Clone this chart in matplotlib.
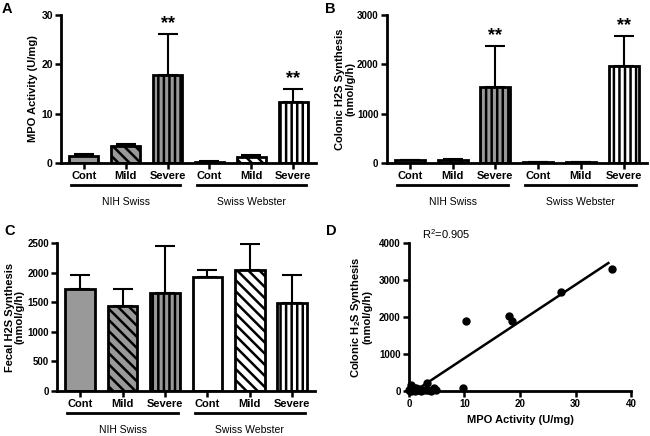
import matplotlib
matplotlib.use("Agg")
import matplotlib.pyplot as plt
import numpy as np
from matplotlib import transforms

plt.rcParams['font.family'] = ['Liberation Sans', 'DejaVu Sans']
plt.rcParams['hatch.linewidth'] = 1.8
plt.rcParams['mathtext.default'] = 'regular'

# categories
categories = ["Cont", "Mild", "Severe", "Cont", "Mild", "Severe"]
groups = ["NIH Swiss", "Swiss Webster"]

# panel A: MPO activity (U/mg)
mpo_mean = [1.5, 3.4, 17.8, 0.3, 1.2, 12.3]
mpo_err = [0.3, 0.4, 8.4, 0.05, 0.4, 2.7]
mpo_sig = ["", "", "**", "", "", "**"]

# panel B: colonic H2S synthesis (nmol/g/h)
colonic_mean = [55, 55, 1530, 20, 12, 1970]
colonic_err = [10, 20, 840, 5, 5, 610]
colonic_sig = ["", "", "**", "", "", "**"]

# panel C: fecal H2S synthesis (nmol/g/h)
fecal_mean = [1720, 1430, 1660, 1920, 2050, 1490]
fecal_err = [230, 300, 780, 120, 430, 460]

# panel D: MPO vs colonic H2S, individual animals
scatter_mpo = [0.1, 0.2, 0.3, 0.5, 0.7, 0.9, 1.1, 1.3, 1.6, 1.9, 2.2, 2.6,
               3.0, 3.5, 4.0, 4.6, 4.9, 9.7, 0.3, 3.3, 0.2, 1.0,
               10.3, 18.1, 18.6, 27.4, 36.5]
scatter_h2s = [30, 60, 10, 40, 20, 50, 15, 70, 30, 45, 10, 40,
               20, 35, 15, 72, 25, 90, 162, 207, 5, 90,
               1900, 2027, 1892, 2685, 3297]
r_squared = 0.905

bar_colors = ["#999999", "#999999", "#999999", "white", "white", "white"]
bar_hatches = [None, "\\\\\\", "|||", None, "\\\\\\", "|||"]


def style_axes(ax, ysize):
    for side in ["top", "right"]:
        ax.spines[side].set_visible(False)
    for side in ["left", "bottom"]:
        ax.spines[side].set_linewidth(2)
    ax.tick_params(axis="both", length=4, width=1.8, pad=2)
    ax.tick_params(axis="x", labelsize=8)
    ax.tick_params(axis="y", labelsize=ysize)
    for lab in ax.get_xticklabels() + ax.get_yticklabels():
        lab.set_fontweight("bold")


def bar_panel(ax, means, errs, ymax, ystep, ylabel, label_x, ysize, sig=None):
    x = np.arange(len(means))
    for i in range(len(means)):
        ax.bar(x[i], means[i], width=0.7, color=bar_colors[i], edgecolor="black",
               hatch=bar_hatches[i], linewidth=2, zorder=2)
    ax.errorbar(x, means, yerr=[np.zeros(len(errs)), errs], fmt="none",
                ecolor="black", elinewidth=1.5, capsize=7, capthick=1.5, zorder=1)
    if sig:
        for i in range(len(means)):
            if sig[i]:
                ax.text(x[i], means[i] + errs[i] + ymax * 0.01, sig[i], ha="center",
                        va="bottom", fontsize=13, fontweight="bold")
    ax.set_xlim(-0.54, 5.54)
    ax.set_ylim(0, ymax)
    ax.set_yticks(np.arange(0, ymax + 1, ystep))
    ax.set_xticks(x)
    ax.set_xticklabels(categories)
    ax.set_ylabel(ylabel, fontsize=8, fontweight="bold", linespacing=1.0)
    ax.yaxis.set_label_coords(label_x, 0.5)
    style_axes(ax, ysize)
    trans = transforms.blended_transform_factory(ax.transData, ax.transAxes)
    for g, name in enumerate(groups):
        c = 1 + 3 * g
        ax.plot([c - 1.3, c + 1.3], [-0.145, -0.145], color="black", lw=2,
                transform=trans, clip_on=False)
        ax.text(c, -0.26, name, transform=trans, ha="center", va="center", fontsize=7.5)


fig = plt.figure(figsize=(6.5, 4.36), dpi=100)

axA = fig.add_axes([0.094, 0.626, 0.392, 0.34])
bar_panel(axA, mpo_mean, mpo_err, 30, 10, "MPO Activity (U/mg)", -0.09, 7.5, mpo_sig)

axB = fig.add_axes([0.595, 0.626, 0.40, 0.34])
bar_panel(axB, colonic_mean, colonic_err, 3000, 1000,
          "Colonic H2S Synthesis\n(nmol/g/h)", -0.122, 7, colonic_sig)

axC = fig.add_axes([0.088, 0.103, 0.397, 0.34])
bar_panel(axC, fecal_mean, fecal_err, 2500, 500,
          "Fecal H2S Synthesis\n(nmol/g/h)", -0.125, 7)

axD = fig.add_axes([0.629, 0.103, 0.342, 0.34])
xs = np.array(scatter_mpo)
ys = np.array(scatter_h2s)
slope, intercept = np.polyfit(xs, ys, 1)
xfit = np.array([xs.min(), xs.max() - 0.6])
axD.plot(xfit, slope * xfit + intercept, color="black", lw=1.8)
axD.plot(xs, ys, "o", color="black", markersize=5, clip_on=False, zorder=3)
axD.set_xlim(0, 40)
axD.set_ylim(0, 4000)
axD.set_xticks([0, 10, 20, 30, 40])
axD.set_yticks([0, 1000, 2000, 3000, 4000])
axD.set_xlabel("MPO Activity (U/mg)", fontsize=8, fontweight="bold", labelpad=4)
axD.set_ylabel("Colonic H$_2$S Synthesis\n(nmol/g/h)", fontsize=8, fontweight="bold",
               linespacing=1.0)
axD.yaxis.set_label_coords(-0.162, 0.5)
style_axes(axD, 7)
axD.tick_params(axis="x", labelsize=7)
axD.text(0.06, 1.01, f"R$^2$={r_squared}", transform=axD.transAxes, fontsize=8,
         ha="left", va="bottom")

for letter, (px, py) in zip("ABCD", [(2, 2), (325, 2), (4, 224), (326, 224)]):
    fig.text(px / 650, 1 - py / 436, letter, fontsize=10.5, fontweight="bold",
             ha="left", va="top")

fig.savefig("out.png", dpi=100)
